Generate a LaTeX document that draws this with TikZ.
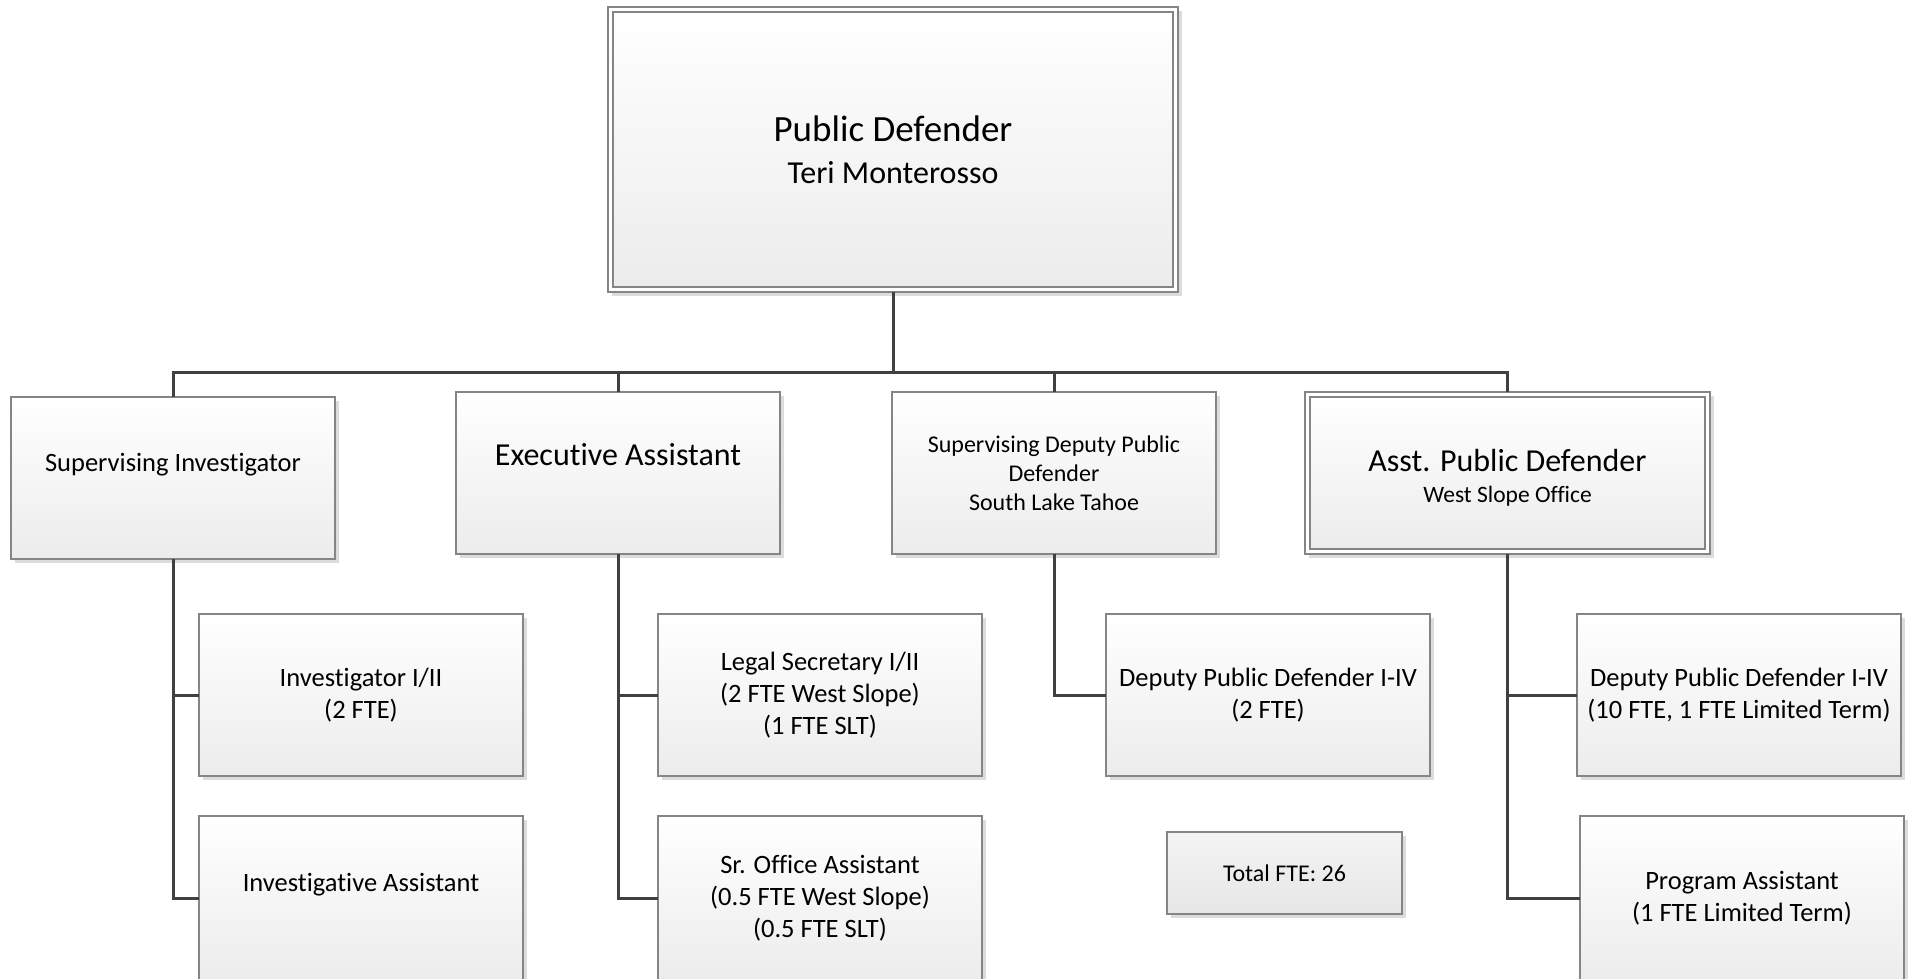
\documentclass[tikz,border=0pt]{standalone}
\usepackage{fontspec}
\setmainfont{Carlito}[Ligatures={CommonOff,TeX}]
\usetikzlibrary{shadows}
\definecolor{boxline}{HTML}{858585}
\definecolor{conn}{HTML}{404040}
\definecolor{shadecol}{HTML}{DCDCDC}
\definecolor{fillbot}{HTML}{ECECEC}
\definecolor{totfilltop}{HTML}{F4F4F4}
\definecolor{totfillbot}{HTML}{E6E6E6}
\tikzset{
  orgbox/.style={rectangle, draw=boxline, line width=1.3pt, top color=white, bottom color=fillbot,
    align=center, inner sep=2pt, outer sep=0pt, anchor=north west,
    drop shadow={shadow xshift=4pt, shadow yshift=-4pt, fill=shadecol, opacity=1}},
  outerbox/.style={rectangle, draw=boxline, line width=1.3pt, fill=white, inner sep=0pt, outer sep=0pt,
    anchor=north west, drop shadow={shadow xshift=4pt, shadow yshift=-4pt, fill=shadecol, opacity=1}},
  innerbox/.style={rectangle, draw=boxline, line width=1.3pt, top color=white, bottom color=fillbot,
    align=center, inner sep=2pt, outer sep=0pt, anchor=north west},
  totbox/.style={orgbox, top color=totfilltop, bottom color=totfillbot},
  conline/.style={draw=conn, line width=3pt},
  fbig/.style={font=\fontsize{26.5}{32}\selectfont},
  fhead/.style={font=\fontsize{32}{38}\selectfont},
  fsmall/.style={font=\fontsize{24}{29}\selectfont},
}
\begin{document}
\begin{tikzpicture}[x=1pt,y=-1pt]
\useasboundingbox (0,0) rectangle (1908,978);

% top
\node[outerbox, minimum width=570pt, minimum height=285pt] (pd) at (608,7) {};
\node[innerbox, minimum width=560pt, minimum height=275pt, font=\fontsize{32}{42}\selectfont] (pdin) at (613,12)
  {{\fontsize{37}{42}\selectfont Public Defender}\\Teri Monterosso};

% second level
\node[orgbox, fbig, minimum width=324pt, minimum height=162pt] (si) at (11,397) {Supervising Investigator\\\mbox{}};
\node[orgbox, fhead, minimum width=324pt, minimum height=162pt] (ea) at (456,392) {Executive Assistant\\\mbox{}};
\node[orgbox, fsmall, minimum width=324pt, minimum height=162pt] (sdpd) at (892,392) {Supervising Deputy Public\\Defender\\South Lake Tahoe};
\node[outerbox, minimum width=405pt, minimum height=162pt] (apd) at (1305,392) {};
\node[innerbox, minimum width=395pt, minimum height=152pt, font=\fontsize{23.5}{34}\selectfont] (apdin) at (1310,397)
  {{\fontsize{32}{34}\selectfont\rule{0pt}{31pt}Asst. Public Defender}\\[-3pt]West Slope Office};

% third level
\node[orgbox, fbig, minimum width=324pt, minimum height=162pt] (inv) at (199,614) {Investigator I/II\\(2 FTE)};
\node[orgbox, fbig, minimum width=324pt, minimum height=164pt] (ia) at (199,816) {Investigative Assistant\\\mbox{}};
\node[orgbox, fbig, minimum width=324pt, minimum height=162pt] (ls) at (658,614) {Legal Secretary I/II\\(2 FTE West Slope)\\(1 FTE SLT)};
\node[orgbox, fbig, minimum width=324pt, minimum height=164pt] (soa) at (658,816) {Sr. Office Assistant\\(0.5 FTE West Slope)\\(0.5 FTE SLT)};
\node[orgbox, fbig, minimum width=324pt, minimum height=162pt] (dpd2) at (1106,614) {Deputy Public Defender I-IV\\(2 FTE)};
\node[totbox, fsmall, minimum width=235pt, minimum height=82pt] (tot) at (1167,832) {Total FTE: 26};
\node[orgbox, fbig, minimum width=324pt, minimum height=162pt] (dpd10) at (1577,614) {Deputy Public Defender I-IV\\(10 FTE, 1 FTE Limited Term)};
\node[orgbox, fbig, minimum width=324pt, minimum height=164pt] (pa) at (1580,816) {Program Assistant\\(1 FTE Limited Term)};

% connectors
\coordinate (bus) at (0,372);
\draw[conline] (pd.south) -- (pd.south |- bus);
\draw[conline] (si.north) -- (si.north |- bus) -- (apd.north |- bus) -- (apd.north);
\draw[conline] (ea.north |- bus) -- (ea.north);
\draw[conline] (sdpd.north |- bus) -- (sdpd.north);

\draw[conline] (si.south) -- (si.south |- ia.west) -- (ia.west);
\draw[conline] (si.south |- inv.west) -- (inv.west);
\draw[conline] (ea.south) -- (ea.south |- soa.west) -- (soa.west);
\draw[conline] (ea.south |- ls.west) -- (ls.west);
\draw[conline] (sdpd.south) -- (sdpd.south |- dpd2.west) -- (dpd2.west);
\draw[conline] (apd.south) -- (apd.south |- pa.west) -- (pa.west);
\draw[conline] (apd.south |- dpd10.west) -- (dpd10.west);
\end{tikzpicture}
\end{document}
